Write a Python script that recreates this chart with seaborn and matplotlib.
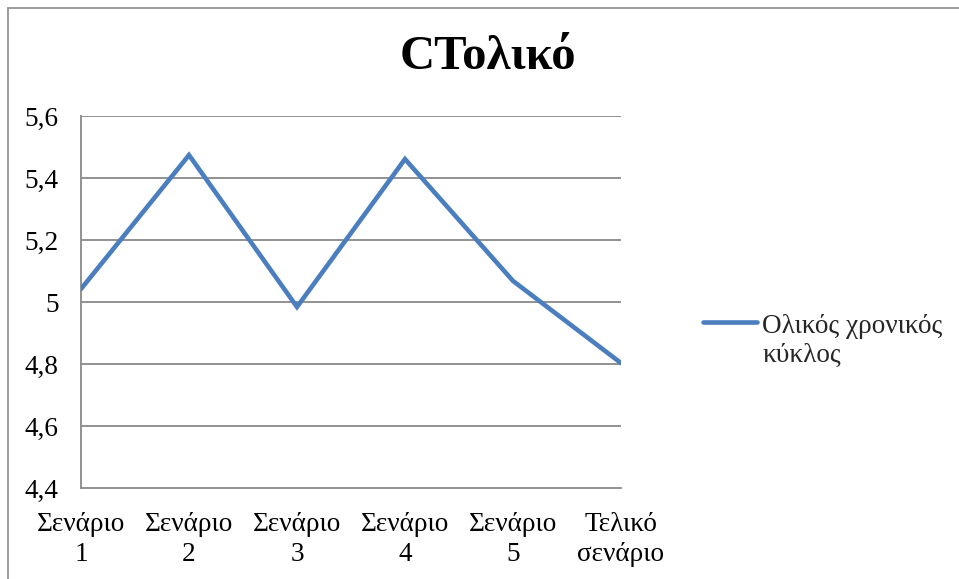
import matplotlib
matplotlib.use("Agg")
import matplotlib.pyplot as plt
from matplotlib.lines import Line2D
from matplotlib.legend_handler import HandlerLine2D
import seaborn as sns
import pandas as pd

# Data
categories = ["Σενάριο\n1", "Σενάριο\n2", "Σενάριο\n3", "Σενάριο\n4", "Σενάριο\n5", "Τελικό\nσενάριο"]
values = [5.042, 5.474, 4.984, 5.461, 5.068, 4.803]
y_ticks = [4.4, 4.6, 4.8, 5.0, 5.2, 5.4, 5.6]
y_tick_labels = ["4,4", "4,6", "4,8", "5", "5,2", "5,4", "5,6"]
series_name = "Ολικός χρονικός\nκύκλος"
title = "CΤολικό"

sns.set_style("white")
plt.rcParams["font.family"] = ["Liberation Serif", "DejaVu Serif"]

line_color = "#4A7EBF"
grid_color = "#898989"
label_size = 19.6


class RaisedLineHandler(HandlerLine2D):
    """Legend line drawn level with the first line of a two-line label."""

    def __init__(self, raise_pts, **kw):
        super().__init__(**kw)
        self.raise_pts = raise_pts

    def create_artists(self, legend, orig_handle, xdescent, ydescent,
                       width, height, fontsize, trans):
        artists = super().create_artists(legend, orig_handle, xdescent, ydescent,
                                         width, height, fontsize, trans)
        for a in artists:
            if isinstance(a, Line2D):
                a.set_ydata([y + self.raise_pts for y in a.get_ydata()])
        return artists


df = pd.DataFrame({"pos": range(len(categories)), "value": values})

fig = plt.figure(figsize=(9.59, 5.79), dpi=100)
ax = fig.add_axes([81 / 959, 1 - 488 / 579, (621 - 81) / 959, (488 - 116) / 579])

sns.lineplot(data=df, x="pos", y="value", ax=ax, color=line_color,
             linewidth=3.3, solid_capstyle="round", solid_joinstyle="miter",
             legend=False, zorder=3)

ax.set_xlim(0, len(categories) - 1)
ax.set_ylim(4.4, 5.6)
ax.set_xticks(range(len(categories)))
ax.set_xticklabels(categories, fontsize=label_size, linespacing=1.26)
ax.set_yticks(y_ticks)
ax.set_yticklabels(y_tick_labels, fontsize=label_size)
ax.set_xlabel("")
ax.set_ylabel("")

for y in y_ticks[1:]:
    ax.axhline(y, color=grid_color, linewidth=1.3, zorder=1)

for side in ["top", "right"]:
    ax.spines[side].set_visible(False)
for side in ["left", "bottom"]:
    ax.spines[side].set_color(grid_color)
    ax.spines[side].set_linewidth(1.3)

ax.tick_params(axis="both", direction="out", length=7, width=1.3,
               color=grid_color, labelcolor="black")
ax.tick_params(axis="x", pad=10)
ax.tick_params(axis="y", pad=9)

fig.text(488 / 959, 1 - 57 / 579, title, ha="center", va="center",
         fontsize=35, fontweight="bold", color="black")

handle = Line2D([], [], color=line_color, linewidth=3.3, solid_capstyle="round")
fig.legend([handle], [series_name], loc="center left",
           bbox_to_anchor=(703 / 959, 1 - 341 / 579), frameon=False,
           fontsize=label_size, handlelength=1.98, handletextpad=0.2,
           borderaxespad=0, borderpad=0,
           handler_map={Line2D: RaisedLineHandler(raise_pts=14)})

# Chart area border (left and top edges)
fig.add_artist(Line2D([7.5 / 959, 7.5 / 959], [0, 1 - 7.5 / 579],
                      transform=fig.transFigure, color="#8c8c8c", linewidth=1.2))
fig.add_artist(Line2D([7.5 / 959, 1], [1 - 7.5 / 579, 1 - 7.5 / 579],
                      transform=fig.transFigure, color="#8c8c8c", linewidth=1.2))

fig.savefig("out.png", dpi=100)
